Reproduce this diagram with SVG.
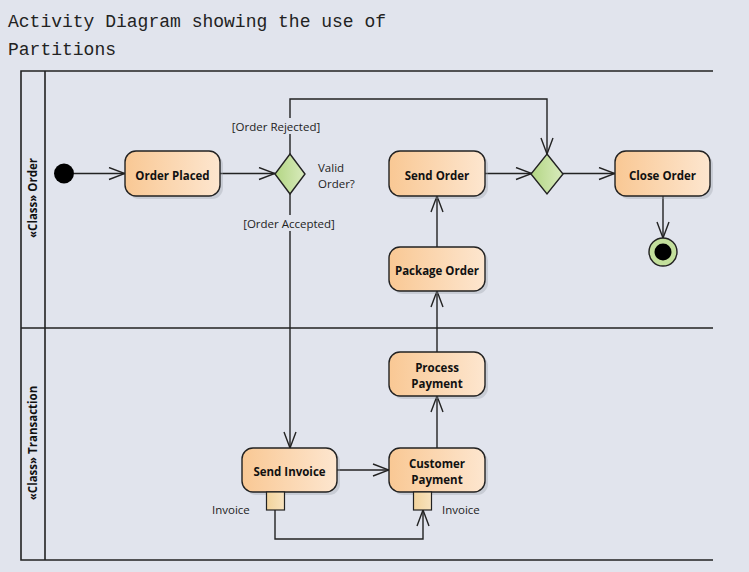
<svg xmlns="http://www.w3.org/2000/svg" width="749" height="572" viewBox="0 0 749 572">
<defs>
<linearGradient id="act" x1="0" y1="0" x2="1" y2="0">
<stop offset="0" stop-color="#f9c894"/>
<stop offset="1" stop-color="#fde6cf"/>
</linearGradient>
<linearGradient id="dec" x1="0" y1="0" x2="1" y2="0">
<stop offset="0" stop-color="#b3d684"/>
<stop offset="1" stop-color="#d9ebbd"/>
</linearGradient>
<linearGradient id="pin" x1="0" y1="0" x2="1" y2="0">
<stop offset="0" stop-color="#f2d39c"/>
<stop offset="1" stop-color="#f8e3bf"/>
</linearGradient>
<marker id="arr" viewBox="0 0 18 14" refX="17" refY="7" markerWidth="18" markerHeight="14" markerUnits="userSpaceOnUse" orient="auto">
<path d="M1,1 L17,7 L1,13" fill="none" stroke="#222" stroke-width="1.4"/>
</marker>
</defs>
<style>
.lane{stroke:#222;stroke-width:1.6;fill:none}
.act{fill:url(#act);stroke:#222;stroke-width:1.4}
.sh{fill:#9aa0aa;opacity:0.35}
.dec{fill:url(#dec);stroke:#222;stroke-width:1.4}
.pin{fill:url(#pin);stroke:#222;stroke-width:1.2}
.flow{fill:none;stroke:#222;stroke-width:1.4;marker-end:url(#arr)}
.t{font-family:"Open Sans","Noto Sans","Liberation Sans",sans-serif;font-size:11.5px;font-weight:bold;fill:#111;text-anchor:middle}
.lbl{font-family:"Open Sans","Noto Sans","Liberation Sans",sans-serif;font-size:11.5px;fill:#222}
.lt{font-family:"Open Sans","Noto Sans","Liberation Sans",sans-serif;font-size:11.5px;font-weight:bold;fill:#111;text-anchor:middle}
.title{font-family:"Liberation Mono","DejaVu Sans Mono",monospace;font-size:18px;fill:#222}
</style>
<rect width="749" height="572" fill="#e1e4ed"/>
<g id="title">
<text class="title" x="8" y="27">Activity Diagram showing the use of</text>
<text class="title" x="8" y="55">Partitions</text>
</g>
<g id="partitions">
<path class="lane" d="M713,71 H21 V560 H713 M45,71 V560 M21,328 H713"/>
<text class="lt" transform="translate(37,198) rotate(-90)">«Class» Order</text>
<text class="lt" transform="translate(37,443) rotate(-90)">«Class» Transaction</text>
</g>
<g id="connectors">
<path class="flow" d="M74,173.5 H125"/>
<path class="flow" d="M220,173.5 H275"/>
<path class="flow" d="M290,154 V99 H547 V154"/>
<path class="flow" d="M290,194 V448"/>
<path class="flow" d="M485,173.5 H532"/>
<path class="flow" d="M563,173.5 H615"/>
<path class="flow" d="M663,196 V238"/>
<path class="flow" d="M437,247 V196"/>
<path class="flow" d="M437,352 V291"/>
<path class="flow" d="M437,448 V396"/>
<path class="flow" d="M337,470 H389"/>
<path class="flow" d="M275,510 V539 H423 V510"/>
</g>
<g id="guard-rejected">
<rect x="229" y="118" width="94" height="16" fill="#e1e4ed"/>
<text class="lbl" x="276" y="130.5" text-anchor="middle">[Order Rejected]</text>
</g>
<g id="guard-accepted">
<rect x="241" y="215" width="97" height="16" fill="#e1e4ed"/>
<text class="lbl" x="289" y="227.5" text-anchor="middle">[Order Accepted]</text>
</g>
<g id="initial">
<circle cx="64" cy="173.5" r="10" fill="#000"/>
</g>
<g id="order-placed">
<rect class="sh" x="128" y="154" width="95" height="45" rx="11"/>
<rect class="act" x="125" y="151" width="95" height="45" rx="11"/>
<text class="t" x="172.5" y="179.5">Order Placed</text>
</g>
<g id="valid-order">
<path class="dec" d="M290,154 L305,174 L290,194 L275,174 Z"/>
<text class="lbl" x="318" y="171.5">Valid</text>
<text class="lbl" x="318" y="187.5">Order?</text>
</g>
<g id="send-order">
<rect class="sh" x="392" y="154" width="96" height="45" rx="11"/>
<rect class="act" x="389" y="151" width="96" height="45" rx="11"/>
<text class="t" x="437" y="179.5">Send Order</text>
</g>
<g id="merge">
<path class="dec" d="M547,154 L563,174 L547,194 L531,174 Z"/>
</g>
<g id="close-order">
<rect class="sh" x="618" y="154" width="95" height="45" rx="11"/>
<rect class="act" x="615" y="151" width="95" height="45" rx="11"/>
<text class="t" x="662.5" y="179.5">Close Order</text>
</g>
<g id="final">
<circle cx="663" cy="252" r="14" fill="#c3df9c" stroke="#222" stroke-width="1.4"/>
<circle cx="663" cy="252" r="8.5" fill="#000"/>
</g>
<g id="package-order">
<rect class="sh" x="392" y="250" width="96" height="44" rx="11"/>
<rect class="act" x="389" y="247" width="96" height="44" rx="11"/>
<text class="t" x="437" y="275">Package Order</text>
</g>
<g id="process-payment">
<rect class="sh" x="392" y="355" width="96" height="44" rx="11"/>
<rect class="act" x="389" y="352" width="96" height="44" rx="11"/>
<text class="t" x="437" y="372">Process</text>
<text class="t" x="437" y="388">Payment</text>
</g>
<g id="customer-payment">
<rect class="sh" x="392" y="451" width="96" height="44" rx="11"/>
<rect class="act" x="389" y="448" width="96" height="44" rx="11"/>
<text class="t" x="437" y="468">Customer</text>
<text class="t" x="437" y="484">Payment</text>
<rect class="pin" x="413.5" y="492" width="18" height="18"/>
<text class="lbl" x="442" y="513.5">Invoice</text>
</g>
<g id="send-invoice">
<rect class="sh" x="245" y="451" width="95" height="44" rx="11"/>
<rect class="act" x="242" y="448" width="95" height="44" rx="11"/>
<text class="t" x="289.5" y="476">Send Invoice</text>
<rect class="pin" x="266.5" y="492" width="18" height="18"/>
<text class="lbl" x="212" y="513.5">Invoice</text>
</g>
</svg>
